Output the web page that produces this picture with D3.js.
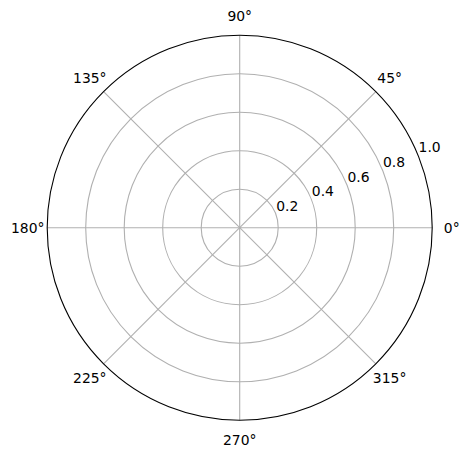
<!DOCTYPE html>
<html>
<head>
<meta charset="utf-8">
<script src="https://cdn.jsdelivr.net/npm/d3@7"></script>
<style>
  html, body { margin: 0; padding: 0; background: #fff; }
  svg { display: block; }
  text { font-family: "DejaVu Sans", sans-serif; font-size: 13.9px; fill: #000; }
</style>
</head>
<body>
<div id="chart"></div>
<script>
// Tick values for the (empty) polar axes
const rTicks = [0.2, 0.4, 0.6, 0.8, 1.0];
const rTickLabels = ["0.2", "0.4", "0.6", "0.8", "1.0"];
const thetaTicks = [0, 45, 90, 135, 180, 225, 270, 315];
const thetaTickLabels = ["0°", "45°", "90°", "135°", "180°", "225°", "270°", "315°"];
const rLabelAngle = 22.5;

const width = 468;
const height = 457;
const cx = 239.7;
const cy = 227.7;
const radius = 192.5;

const svg = d3.select("#chart")
    .append("svg")
    .attr("width", width)
    .attr("height", height);

const r = d3.scaleLinear().domain([0, 1]).range([0, radius]);
const rad = deg => deg * Math.PI / 180;

const g = svg.append("g").attr("transform", `translate(${cx},${cy})`);

// Radial gridlines (spokes)
g.append("g")
    .selectAll("line")
    .data(thetaTicks)
    .join("line")
    .attr("x1", 0)
    .attr("y1", 0)
    .attr("x2", d => r(1) * Math.cos(rad(d)))
    .attr("y2", d => -r(1) * Math.sin(rad(d)))
    .attr("stroke", "#b0b0b0")
    .attr("stroke-width", 1.1);

// Circular gridlines (skip the outer one, that's the spine)
g.append("g")
    .selectAll("circle")
    .data(rTicks.filter(d => d < 1))
    .join("circle")
    .attr("r", d => r(d))
    .attr("fill", "none")
    .attr("stroke", "#b0b0b0")
    .attr("stroke-width", 1.1);

// Outer spine
g.append("circle")
    .attr("r", r(1))
    .attr("fill", "none")
    .attr("stroke", "#000")
    .attr("stroke-width", 1.1);

// Theta labels, centered just outside the spine
const labelPad = 19.5;
g.append("g")
    .selectAll("text")
    .data(thetaTicks)
    .join("text")
    .attr("x", d => (r(1) + labelPad) * Math.cos(rad(d)))
    .attr("y", d => -(r(1) + labelPad) * Math.sin(rad(d)))
    .attr("text-anchor", "middle")
    .attr("dominant-baseline", "central")
    .text((d, i) => thetaTickLabels[i]);

// Radial labels along 22.5 degrees
g.append("g")
    .selectAll("text")
    .data(rTicks)
    .join("text")
    .attr("x", d => r(d) * Math.cos(rad(rLabelAngle)) + 1)
    .attr("y", d => -r(d) * Math.sin(rad(rLabelAngle)) - 2)
    .attr("text-anchor", "start")
    .text((d, i) => rTickLabels[i]);
</script>
</body>
</html>
